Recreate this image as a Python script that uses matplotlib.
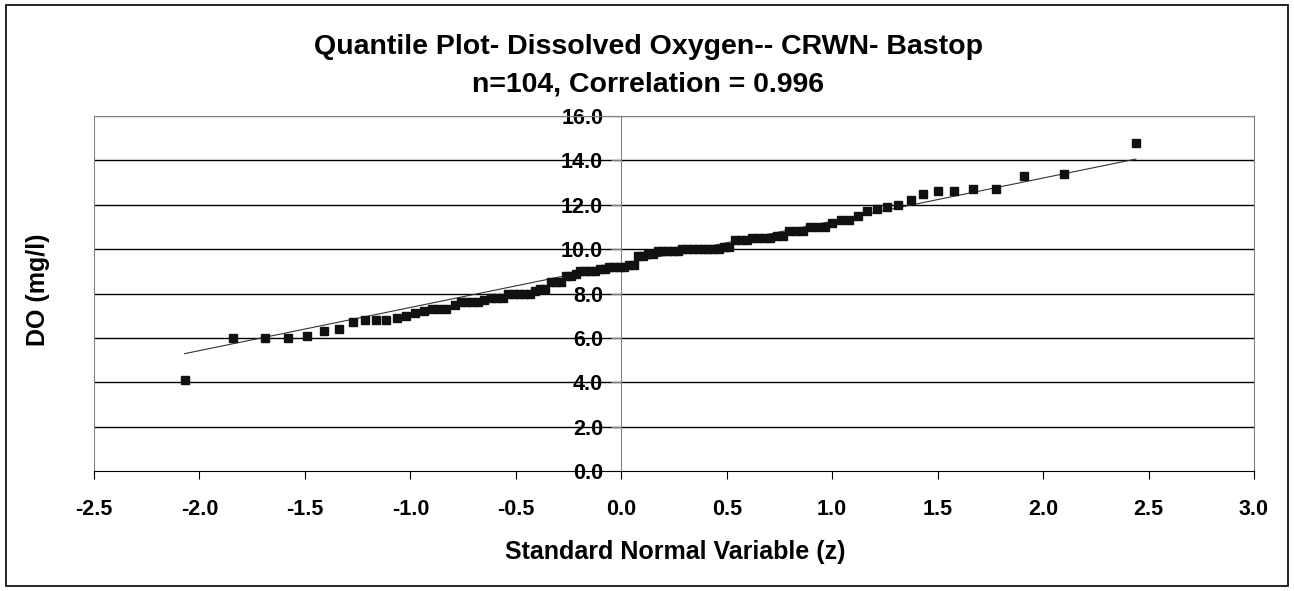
import matplotlib
matplotlib.use("Agg")
import matplotlib.pyplot as plt
from matplotlib.patches import Rectangle

plt.rcParams['font.family'] = ['Liberation Sans', 'DejaVu Sans']

# standard normal quantiles (z) and sorted DO readings (mg/l)
z_vals = [
    -2.07, -1.84, -1.69, -1.58, -1.49, -1.41, -1.34, -1.27, -1.215, -1.164,
    -1.114, -1.065, -1.02, -0.978, -0.936, -0.899, -0.864, -0.83, -0.79, -0.76,
    -0.735, -0.707, -0.68, -0.65, -0.62,
    -0.590, -0.563, -0.536, -0.510, -0.484, -0.459, -0.433, -0.409, -0.384, -0.360,
    -0.335, -0.311, -0.287, -0.264, -0.240, -0.217, -0.194, -0.171, -0.148, -0.125,
    -0.102, -0.079, -0.056, -0.033, -0.010, 0.013, 0.036, 0.058, 0.081, 0.104,
    0.127, 0.150, 0.174, 0.197, 0.220, 0.243, 0.267, 0.290, 0.314, 0.338,
    0.362, 0.387, 0.411, 0.436, 0.462, 0.488, 0.513, 0.540, 0.566, 0.594,
    0.621, 0.649, 0.678, 0.707, 0.736, 0.766, 0.797, 0.828, 0.861, 0.894,
    0.929, 0.964, 1.001, 1.040, 1.080, 1.122, 1.166, 1.212, 1.261, 1.313,
    1.372, 1.429, 1.500, 1.576, 1.670, 1.775, 1.908, 2.098, 2.440,
]
do_vals = [
    4.1, 6.0, 6.0, 6.0, 6.1, 6.3, 6.4, 6.7, 6.8, 6.8,
    6.8, 6.9, 7.0, 7.1, 7.2, 7.3, 7.3, 7.3, 7.5, 7.6,
    7.6, 7.6, 7.6, 7.7, 7.8,
    7.8, 7.8, 8.0, 8.0, 8.0, 8.0, 8.0, 8.1, 8.2, 8.2,
    8.5, 8.5, 8.5, 8.8, 8.8, 8.9, 9.0, 9.0, 9.0, 9.0,
    9.1, 9.1, 9.2, 9.2, 9.2, 9.2, 9.3, 9.3, 9.7, 9.7,
    9.8, 9.8, 9.9, 9.9, 9.9, 9.9, 9.9, 10.0, 10.0, 10.0,
    10.0, 10.0, 10.0, 10.0, 10.0, 10.1, 10.1, 10.4, 10.4, 10.4,
    10.5, 10.5, 10.5, 10.5, 10.6, 10.6, 10.8, 10.8, 10.8, 11.0,
    11.0, 11.0, 11.2, 11.3, 11.3, 11.5, 11.7, 11.8, 11.9, 12.0,
    12.2, 12.5, 12.6, 12.6, 12.7, 12.7, 13.3, 13.4, 14.8,
]

# fitted line end points
fit_z = [-2.07, 2.44]
fit_do = [5.29, 14.06]

x_ticks = [-2.5, -2.0, -1.5, -1.0, -0.5, 0.0, 0.5, 1.0, 1.5, 2.0, 2.5, 3.0]
y_ticks = [0, 2, 4, 6, 8, 10, 12, 14, 16]

W, H = 1294, 591
fig = plt.figure(figsize=(W / 100, H / 100), dpi=100)
ax = fig.add_axes([94 / W, 1 - 471 / H, (1254 - 94) / W, (471 - 116) / H])

ax.set_xlim(-2.5, 3.0)
ax.set_ylim(0, 16)

for y in y_ticks[1:-1]:
    ax.axhline(y, color='black', lw=1.0, zorder=1)

ax.plot(fit_z, fit_do, color='#333333', lw=0.8, zorder=2)
ax.plot(z_vals, do_vals, 's', color='#111111', ms=6.3, mec='#111111', zorder=3)

# frame
for side in ('top', 'right'):
    ax.spines[side].set_color('#808080')
ax.spines['left'].set_position(('data', 0))
ax.spines['left'].set_color('#808080')
ax.spines['bottom'].set_color('black')
ax.axvline(-2.5, color='#808080', lw=1.5, zorder=1)
ax.axhline(16, color='#808080', lw=1.0, zorder=1)

ax.set_xticks(x_ticks)
ax.set_xticklabels([f"{t:.1f}" for t in x_ticks], fontsize=15.5, fontweight='bold')
ax.set_yticks(y_ticks)
ax.set_yticklabels([f"{t:.1f}" for t in y_ticks], fontsize=15.5, fontweight='bold')
ax.tick_params(axis='x', direction='out', length=6, pad=14, color='black')
ax.tick_params(axis='y', direction='out', length=7, pad=6, color='#808080')

fig.text(675 / W, 1 - 552 / H, "Standard Normal Variable (z)", ha='center', va='center',
         fontsize=18, fontweight='bold')
fig.text(38 / W, 1 - 290 / H, "DO (mg/l)", ha='center', va='center', rotation=90,
         fontsize=18, fontweight='bold')
fig.text(648 / W, 1 - 47 / H, "Quantile Plot- Dissolved Oxygen-- CRWN- Bastop",
         ha='center', va='center', fontsize=20.5, fontweight='bold')
fig.text(648 / W, 1 - 84 / H, "n=104, Correlation = 0.996",
         ha='center', va='center', fontsize=20.5, fontweight='bold')

fig.patches.append(Rectangle((6 / W, 1 - 586 / H), 1282 / W, 581 / H,
                             transform=fig.transFigure, fill=False,
                             edgecolor='black', lw=1.2))

fig.savefig("out.png", dpi=100)
